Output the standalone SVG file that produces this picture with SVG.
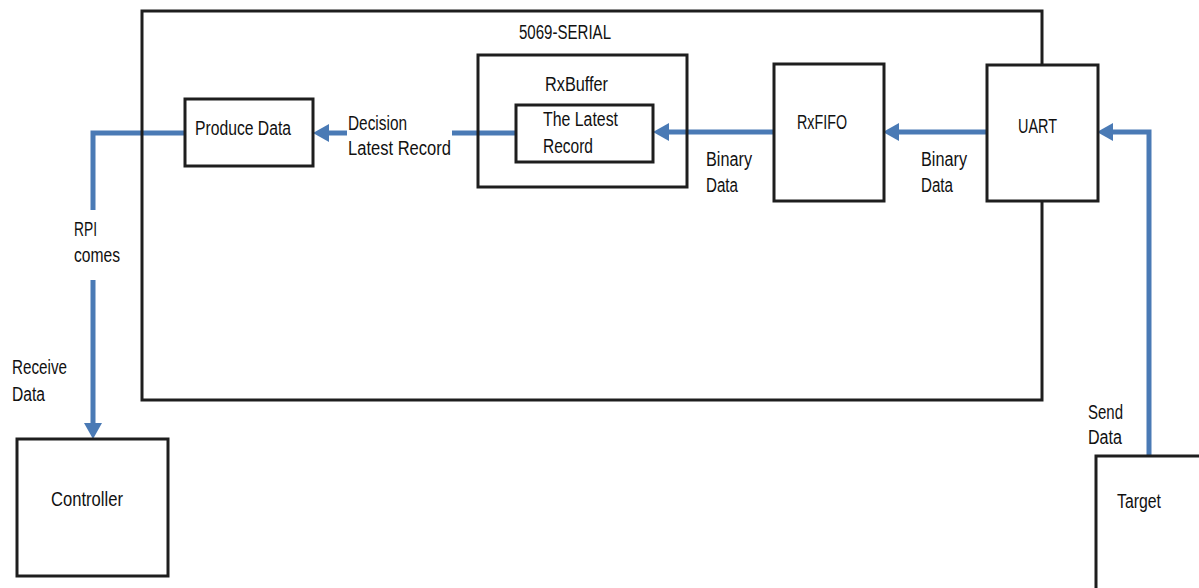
<svg xmlns="http://www.w3.org/2000/svg" width="1199" height="588" viewBox="0 0 1199 588">
<style>
.box{fill:#fff;stroke:#1e1e1e;stroke-width:3}
.frame{fill:none;stroke:#1e1e1e;stroke-width:3}
.t{font-family:"Liberation Sans",Arial,sans-serif;font-size:20px;fill:#111}
.c{fill:none;stroke:#4a7ab5;stroke-width:5;stroke-linejoin:miter}
</style>
<defs>
<marker id="ah" markerUnits="userSpaceOnUse" markerWidth="16" markerHeight="18" refX="6" refY="9" orient="auto">
<path d="M0,0 L16,9 L0,18 Z" fill="#4a7ab5"/>
</marker>
</defs>
<rect width="1199" height="588" fill="#fff"/>
<g id="connectors">
<path class="c" d="M1149,456 V132 H1107" marker-end="url(#ah)"/>
<path class="c" d="M987,132 H893" marker-end="url(#ah)"/>
<path class="c" d="M773,132 H663" marker-end="url(#ah)"/>
<path class="c" d="M516,133 H452"/>
<path class="c" d="M347,133 H323" marker-end="url(#ah)"/>
<path class="c" d="M185,133 H93 V210"/>
<path class="c" d="M93,280 V429" marker-end="url(#ah)"/>
</g>
<g id="serial">
<rect class="frame" x="142" y="11" width="900" height="389"/>
<text class="t" x="519" y="39" textLength="92" lengthAdjust="spacingAndGlyphs">5069-SERIAL</text>
</g>
<g id="producedata">
<rect class="box" x="185" y="99" width="128" height="67"/>
<text class="t" x="195" y="135" textLength="96" lengthAdjust="spacingAndGlyphs">Produce Data</text>
</g>
<g id="rxbuffer">
<rect class="frame" x="478" y="55" width="209" height="132"/>
<text class="t" x="545" y="91" textLength="63" lengthAdjust="spacingAndGlyphs">RxBuffer</text>
</g>
<g id="latestrecord">
<rect class="box" x="516" y="105" width="137" height="57"/>
<text class="t" x="543" y="126" textLength="75" lengthAdjust="spacingAndGlyphs">The Latest</text>
<text class="t" x="543" y="153" textLength="50" lengthAdjust="spacingAndGlyphs">Record</text>
</g>
<g id="rxfifo">
<rect class="box" x="774" y="64" width="110" height="137"/>
<text class="t" x="797" y="129" textLength="50" lengthAdjust="spacingAndGlyphs">RxFIFO</text>
</g>
<g id="uart">
<rect class="box" x="987" y="65" width="111" height="136"/>
<text class="t" x="1018" y="133" textLength="39" lengthAdjust="spacingAndGlyphs">UART</text>
</g>
<g id="controller">
<rect class="box" x="17" y="439" width="151" height="137"/>
<text class="t" x="51" y="506" textLength="72" lengthAdjust="spacingAndGlyphs">Controller</text>
</g>
<g id="target">
<rect class="box" x="1096" y="456" width="130" height="150"/>
<text class="t" x="1117" y="508" textLength="44" lengthAdjust="spacingAndGlyphs">Target</text>
</g>
<g id="labels">
<text class="t" x="348" y="130" textLength="59" lengthAdjust="spacingAndGlyphs">Decision</text>
<text class="t" x="348" y="155" textLength="103" lengthAdjust="spacingAndGlyphs">Latest Record</text>
<text class="t" x="706" y="166" textLength="46" lengthAdjust="spacingAndGlyphs">Binary</text>
<text class="t" x="706" y="192" textLength="32" lengthAdjust="spacingAndGlyphs">Data</text>
<text class="t" x="921" y="166" textLength="46" lengthAdjust="spacingAndGlyphs">Binary</text>
<text class="t" x="921" y="192" textLength="32" lengthAdjust="spacingAndGlyphs">Data</text>
<text class="t" x="74" y="236" textLength="23" lengthAdjust="spacingAndGlyphs">RPI</text>
<text class="t" x="74" y="262" textLength="46" lengthAdjust="spacingAndGlyphs">comes</text>
<text class="t" x="12" y="374" textLength="55" lengthAdjust="spacingAndGlyphs">Receive</text>
<text class="t" x="12" y="401" textLength="33" lengthAdjust="spacingAndGlyphs">Data</text>
<text class="t" x="1088" y="419" textLength="35" lengthAdjust="spacingAndGlyphs">Send</text>
<text class="t" x="1088" y="444" textLength="34" lengthAdjust="spacingAndGlyphs">Data</text>
</g>
</svg>
